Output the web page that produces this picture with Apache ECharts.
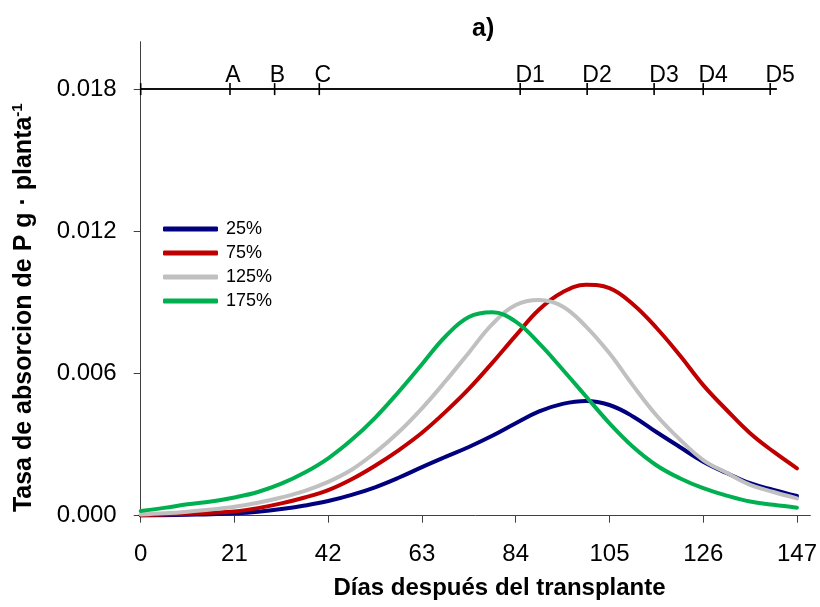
<!DOCTYPE html>
<html>
<head>
<meta charset="utf-8">
<script src="https://cdn.jsdelivr.net/npm/echarts@6/dist/echarts.min.js"></script>
<style>
  html, body { margin: 0; padding: 0; background: #ffffff; }
  #chart { width: 820px; height: 607px; }
</style>
</head>
<body>
<div id="chart"></div>
<script>
// Days after transplant at which the absorption curves are sampled
const days = [0, 5.25, 10.5, 15.75, 21, 26.25, 31.5, 36.75, 42, 47.25, 52.5, 57.75, 63, 68.25, 73.5, 78.75,
              84, 89.25, 94.5, 99.75, 105, 110.25, 115.5, 120.75, 126, 131.25, 136.5, 141.75, 147];

// P absorption rate (g · plant^-1) per treatment
const rate25  = [0.00001, 0.00002, 0.00004, 0.00006, 0.00010, 0.00017, 0.00028, 0.00043, 0.00062, 0.00088, 0.00120, 0.00160, 0.00205, 0.00248, 0.00290,
                 0.00337, 0.00390, 0.00440, 0.00472, 0.00484, 0.00467, 0.00419, 0.00353, 0.00290, 0.00228, 0.00180, 0.00137, 0.00109, 0.00083];
const rate75  = [0.00003, 0.00005, 0.00008, 0.00012, 0.00018, 0.00032, 0.00052, 0.00077, 0.00108, 0.00154, 0.00211, 0.00276, 0.00350, 0.00438, 0.00535,
                 0.00645, 0.00760, 0.00870, 0.00943, 0.00974, 0.00960, 0.00892, 0.00793, 0.00677, 0.00551, 0.00446, 0.00348, 0.00270, 0.00200];
const rate125 = [0.00005, 0.00010, 0.00017, 0.00026, 0.00038, 0.00055, 0.00077, 0.00105, 0.00143, 0.00194, 0.00266, 0.00352, 0.00453, 0.00567, 0.00688,
                 0.00808, 0.00889, 0.00910, 0.00883, 0.00798, 0.00685, 0.00550, 0.00424, 0.00322, 0.00235, 0.00181, 0.00130, 0.00100, 0.00073];
const rate175 = [0.00020, 0.00033, 0.00048, 0.00060, 0.00077, 0.00100, 0.00135, 0.00182, 0.00242, 0.00320, 0.00413, 0.00522, 0.00639, 0.00756, 0.00838,
                 0.00858, 0.00819, 0.00727, 0.00617, 0.00503, 0.00390, 0.00291, 0.00213, 0.00158, 0.00116, 0.00085, 0.00060, 0.00046, 0.00034];

const seriesNames  = ['25%', '75%', '125%', '175%'];
const seriesRates  = [rate25, rate75, rate125, rate175];
const seriesColors = ['#00007f', '#c00000', '#c0c0c0', '#00b050'];

// Phenological stages marked along the top reference line
const stageDays   = [0, 20, 30, 40, 85, 100, 115, 126, 141];
const stageLabels = ['', 'A', 'B', 'C', 'D1', 'D2', 'D3', 'D4', 'D5'];
const stageLevel  = 0.018;
const stageLineEnd = 142.5;

// Axis tick values
const xTicks = [0, 21, 42, 63, 84, 105, 126, 147];
const yTicks = [0, 0.006, 0.012, 0.018];

const FONT = '"Liberation Sans", Arial, sans-serif';

const curveSeries = seriesNames.map((name, i) => ({
  name: name,
  type: 'line',
  smooth: 0.4,
  symbol: 'none',
  showSymbol: false,
  data: days.map((d, j) => [d, seriesRates[i][j]]),
  lineStyle: { color: seriesColors[i], width: 4, cap: 'round', join: 'round' },
  itemStyle: { color: seriesColors[i] },
  z: 3 + i
}));

const stageData = stageDays.map((d, i) => ({
  value: [d, stageLevel],
  label: { show: stageLabels[i] !== '', formatter: stageLabels[i] }
}));
stageData.push({ value: [stageLineEnd, stageLevel], symbol: 'none', label: { show: false } });

const stageSeries = {
  name: 'stages',
  type: 'line',
  data: stageData,
  symbol: 'rect',
  symbolSize: [1.6, 12],
  showSymbol: true,
  itemStyle: { color: '#000000' },
  lineStyle: { color: '#111111', width: 2 },
  label: {
    show: true,
    position: [-4, -7],
    align: 'left',
    verticalAlign: 'middle',
    fontFamily: FONT,
    fontSize: 23,
    color: '#000000'
  },
  emphasis: { disabled: true },
  silent: true,
  z: 2
};

const chart = echarts.init(document.getElementById('chart'), null, { renderer: 'canvas' });

chart.setOption({
  animation: false,
  backgroundColor: '#ffffff',
  title: {
    text: 'a)',
    left: 472,
    top: 17,
    padding: 0,
    textStyle: { fontFamily: FONT, fontSize: 25, fontWeight: 'bold', color: '#000000' }
  },
  legend: {
    data: seriesNames,
    orient: 'vertical',
    left: 163,
    top: 220,
    padding: 0,
    itemGap: 6,
    itemWidth: 55,
    itemHeight: 5,
    icon: 'roundRect',
    textStyle: { fontFamily: FONT, fontSize: 18, color: '#000000', lineHeight: 18, padding: [0, 0, 0, 3] }
  },
  grid: { left: 140.7, right: 9.3, top: 41.7, bottom: 91.3, containLabel: false },
  xAxis: {
    type: 'value',
    min: 0,
    max: 150,
    name: 'Días después del transplante',
    nameLocation: 'middle',
    nameGap: 61,
    nameTextStyle: { fontFamily: FONT, fontSize: 24, fontWeight: 'bold', color: '#000000', padding: [0, 0, 0, 48] },
    axisLine: { show: true, onZero: false, lineStyle: { color: '#404040', width: 1 } },
    axisTick: { show: true, inside: false, length: 7, customValues: xTicks, lineStyle: { color: '#404040' } },
    axisLabel: { customValues: xTicks, margin: 27, fontFamily: FONT, fontSize: 24, color: '#000000' },
    splitLine: { show: false }
  },
  yAxis: {
    type: 'value',
    min: 0,
    max: 0.02,
    name: '{t|Tasa de absorcion de P g · planta}{s|-1}',
    nameLocation: 'middle',
    nameRotate: 90,
    nameGap: 103,
    nameTextStyle: {
      fontFamily: FONT, fontSize: 25, fontWeight: 'bold', color: '#000000',
      padding: [0, 58, 0, 0],
      rich: {
        t: { fontFamily: FONT, fontSize: 25, fontWeight: 'bold', color: '#000000', lineHeight: 27 },
        s: { fontFamily: FONT, fontSize: 15, fontWeight: 'bold', color: '#000000', verticalAlign: 'top', lineHeight: 27 }
      }
    },
    axisLine: { show: true, lineStyle: { color: '#404040', width: 1 } },
    axisTick: { show: true, inside: false, length: 7, customValues: yTicks, lineStyle: { color: '#404040' } },
    axisLabel: {
      customValues: yTicks,
      margin: 24,
      fontFamily: FONT,
      fontSize: 24,
      color: '#000000',
      formatter: v => v.toFixed(3)
    },
    splitLine: { show: false }
  },
  series: [stageSeries].concat(curveSeries)
});
</script>
</body>
</html>
